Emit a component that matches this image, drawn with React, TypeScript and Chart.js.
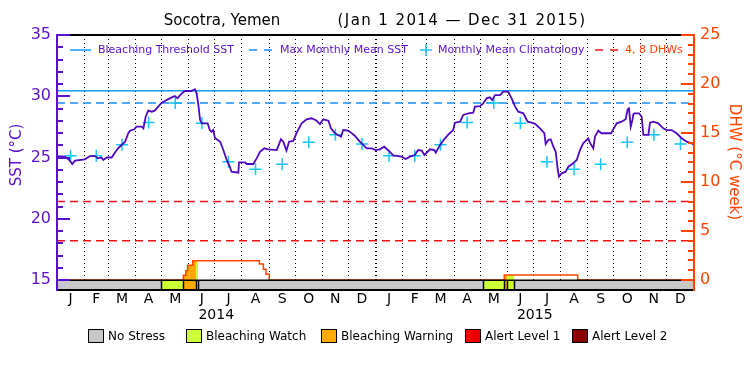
import React, { useEffect, useRef } from 'react';
import { Chart, registerables } from 'chart.js';

Chart.register(...registerables);

// ---------- DATA ----------
const titleLocation = 'Socotra, Yemen';
const titlePeriod = '(Jan 1 2014 — Dec 31 2015)';

// day offsets (from Jan 1 2014) of each month start, 2014–2015
const monthStarts = [0, 31, 59, 90, 120, 151, 181, 212, 243, 273, 304, 334, 365, 396, 424, 455, 485, 516, 546, 577, 608, 638, 669, 699, 730];
const monthLetters = ['J', 'F', 'M', 'A', 'M', 'J', 'J', 'A', 'S', 'O', 'N', 'D'];
const yearLabels = ['2014', '2015'];
const yearStarts = [0, 365, 730];

const sstTicks = [15, 16, 17, 18, 19, 20, 21, 22, 23, 24, 25, 26, 27, 28, 29, 30, 31, 32, 33, 34, 35];
const dhwTicks = [0, 1, 2, 3, 4, 5, 6, 7, 8, 9, 10, 11, 12, 13, 14, 15, 16, 17, 18, 19, 20, 21, 22, 23, 24, 25];

// daily SST (°C), sampled at the turning points of the trace
const sstDays = [
  0, 9, 14, 17.5, 20.6, 32, 37.8, 43.5, 47, 51, 53, 57, 62.7, 66.5, 70, 74, 78, 81.7, 83.7, 88.6,
  91, 97, 99, 101.6, 104.6, 108.5, 112, 120, 125.7, 131.5, 135, 138, 143, 146.7, 154, 158, 160, 162,
  164, 166, 172.7, 175, 177, 179, 181, 187, 190.6, 194.5, 198, 200, 207.8, 208.6, 215.4, 217.4, 225,
  228.8, 232.6, 237.6, 242, 251.8, 256.7, 259.3, 263, 265.9, 270.8, 274.7, 280.4, 286, 291.9, 297.6,
  301.4, 305, 311, 314, 318.6, 325.5, 328, 333.8, 337, 341.5, 347, 355, 360.6, 365,
  370, 375, 380, 385.4, 395, 399.6, 404.5, 410, 414, 418, 421, 427.5, 432.4, 434, 439, 444.6, 450,
  454, 456, 462, 465.6, 471.3, 477, 479, 484.8, 488.5, 492.4, 496, 498.8, 502, 507.7, 511.5, 517,
  521, 525, 528.7, 534.4, 539.4, 544, 548, 553.5, 558.5, 560, 563, 565.8, 568.8, 571.5, 573.8, 575.3,
  578.4, 583, 586, 591.7, 595.6, 599.4, 603, 608.8, 610.7, 614.6, 616.5, 620.3, 624, 635, 637.5,
  641.4, 647, 651.7, 654, 655.5, 657.5, 659.4, 660.6, 661.6, 667, 670, 672, 677.7, 679.6, 683.4, 689,
  694.8, 698.7, 704.4, 710, 715.9, 721.6, 727.3, 730,
];
const sstValues = [
  25.12, 25.07, 24.8, 24.47, 24.74, 24.85, 25.12, 25.12, 24.93, 25.0, 24.8, 25.0, 25.0, 25.4, 25.75, 26.02, 26.29, 26.98, 27.19, 27.3,
  27.52, 27.52, 27.38, 28.33, 28.82, 28.74, 28.82, 29.47, 29.69, 29.91, 30.02, 29.83, 30.24, 30.43, 30.43, 30.57, 30.24, 29.29,
  28.06, 27.79, 27.79, 27.24, 27.1, 27.24, 26.6, 26.29, 25.61, 24.8, 24.25, 23.84, 23.76, 24.61, 24.61, 24.47, 24.47,
  24.93, 25.47, 25.75, 25.67, 25.61, 26.49, 26.29, 25.56, 26.29, 26.35, 27.03, 27.79, 28.12, 28.2, 28.0,
  27.73, 28.12, 28.0, 27.38, 26.98, 26.7, 27.24, 27.19, 27.03, 26.76, 26.29, 25.75, 25.75, 25.6,
  25.67, 25.88, 25.56, 25.18, 25.07, 24.88, 25.07, 25.2, 25.61, 25.56, 25.2, 25.67, 25.61, 25.4, 26.02, 26.57, 26.98,
  27.24, 27.84, 27.92, 28.47, 28.61, 28.66, 29.15, 29.2, 29.42, 29.83, 29.91, 29.69, 30.1, 30.1, 30.37, 30.37,
  29.83, 29.15, 28.74, 28.61, 27.92, 27.84, 27.75, 27.38, 26.98, 26.1, 26.43, 26.49, 25.88, 25.47, 24.04, 23.44,
  23.71, 23.84, 24.25, 24.53, 24.8, 25.61, 26.16, 26.57, 26.21, 25.75, 26.7, 27.19, 26.98, 26.98, 27.3,
  27.79, 27.92, 28.12, 28.93, 29.01, 27.52, 28.06, 28.55, 28.61, 28.61, 28.33, 26.84, 26.84, 27.84, 27.92, 27.79,
  27.38, 27.24, 27.24, 26.98, 26.57, 26.29, 26.16, 26.02,
];

// monthly mean climatology (°C), Jan..Dec, same each year
const climatology = [25.15, 25.15, 26.05, 27.85, 29.45, 27.8, 24.65, 24.05, 24.45, 26.25, 26.85, 26.1];
const maxMonthlyMean = 29.45;
const bleachingThreshold = 30.45;
const dhwLevels = [4, 8];

// Degree Heating Weeks (°C week), step series
const dhwDays = [0, 144.8, 147.5, 149.7, 155.5, 231.9, 236.5, 239.5, 243.3, 512.6, 596.7, 730];
const dhwValues = [0, 0.48, 0.95, 1.5, 1.97, 1.63, 1.09, 0.58, 0, 0.5, 0, 0];

// stress level bar: segment boundaries (days) and level in each segment
const stressBreaks = [0, 119.6, 144.8, 159.3, 161.6, 488.2, 512.6, 515.7, 524, 730];
const stressLevels = [0, 1, 2, 1, 0, 1, 2, 1, 0];
const stressNames = ['No Stress', 'Bleaching Watch', 'Bleaching Warning', 'Alert Level 1', 'Alert Level 2'];

// ---------- STYLE ----------
const FONT = 'DejaVu Sans';
const PURPLE = '#5a0fcc';
const SST_LINE = '#4f08c0';
const BLUE = '#0a9cff';
const MMM_BLUE = '#1e8cff';
const CROSS = '#12c6ff';
const DHW_COL = '#ff4400';
const DHW_DASH = '#ee1111';
const stressColors = ['#c8c8c8', '#ccff33', '#ffaa00', '#ee0000', '#8b0000'];

function dhwAt(d: number) {
  let v = 0;
  for (let i = 0; i < dhwDays.length; i++) if (dhwDays[i] <= d) v = dhwValues[i];
  return v;
}

function fillSegments() {
  const sets: any[] = [];
  for (let i = 0; i < stressLevels.length; i++) {
    if (!stressLevels[i]) continue;
    const s = stressBreaks[i];
    const e = stressBreaks[i + 1];
    const pts = [{ x: s, y: dhwAt(s) }];
    dhwDays.forEach((d, k) => {
      if (d > s && d < e) pts.push({ x: d, y: dhwValues[k] });
    });
    pts.push({ x: e, y: dhwAt(e - 0.001) });
    sets.push({
      data: pts,
      yAxisID: 'y2',
      xAxisID: 'x',
      stepped: true,
      borderWidth: 0,
      borderColor: 'rgba(0,0,0,0)',
      backgroundColor: stressColors[stressLevels[i]],
      fill: 'origin',
      pointRadius: 0,
    });
  }
  return sets;
}

const decorPlugin = {
  id: 'decor',
  afterDatasetsDraw(chart: any) {
    const { ctx, chartArea: ca, scales } = chart;
    const x = scales.x;
    const y = scales.y;
    const y2 = scales.y2;
    const barTop = Math.round(y2.getPixelForValue(0));
    const barBot = Math.round(ca.bottom);
    ctx.save();

    // stress bar
    for (let i = 0; i < stressLevels.length; i++) {
      const x0 = x.getPixelForValue(stressBreaks[i]);
      const x1 = x.getPixelForValue(stressBreaks[i + 1]);
      ctx.fillStyle = stressColors[stressLevels[i]];
      ctx.fillRect(x0, barTop, x1 - x0, barBot - barTop);
    }
    ctx.strokeStyle = '#000';
    ctx.lineWidth = 1.5;
    for (let i = 1; i < stressLevels.length; i++) {
      if (stressLevels[i] || stressLevels[i - 1]) {
        const px = Math.round(x.getPixelForValue(stressBreaks[i])) + 0.5;
        ctx.beginPath();
        ctx.moveTo(px, barTop);
        ctx.lineTo(px, barBot);
        ctx.stroke();
      }
    }
    ctx.lineWidth = 1.5;
    ctx.beginPath();
    ctx.moveTo(ca.left, barTop + 0.25);
    ctx.lineTo(ca.right, barTop + 0.25);
    ctx.stroke();
    ctx.lineWidth = 2;
    ctx.beginPath();
    ctx.moveTo(ca.left, barBot);
    ctx.lineTo(ca.right, barBot);
    ctx.stroke();
    // top frame
    ctx.beginPath();
    ctx.moveTo(ca.left, ca.top);
    ctx.lineTo(ca.right, ca.top);
    ctx.stroke();

    // left axis
    ctx.strokeStyle = PURPLE;
    ctx.lineWidth = 2;
    ctx.beginPath();
    ctx.moveTo(ca.left, ca.top - 1);
    ctx.lineTo(ca.left, barBot + 1);
    ctx.stroke();
    for (const v of sstTicks) {
      const py = Math.round(y.getPixelForValue(v));
      const len = v % 5 === 0 ? 13 : 6;
      ctx.beginPath();
      ctx.moveTo(ca.left, py);
      ctx.lineTo(ca.left + len, py);
      ctx.stroke();
    }
    // right axis
    ctx.strokeStyle = DHW_COL;
    ctx.beginPath();
    ctx.moveTo(ca.right, ca.top - 1);
    ctx.lineTo(ca.right, barBot + 1);
    ctx.stroke();
    for (const v of dhwTicks) {
      const py = Math.round(y2.getPixelForValue(v));
      const len = v % 5 === 0 ? 13 : 6;
      ctx.beginPath();
      ctx.moveTo(ca.right - len, py);
      ctx.lineTo(ca.right, py);
      ctx.stroke();
    }

    // title
    ctx.fillStyle = '#000';
    ctx.font = `15px "${FONT}"`;
    ctx.textBaseline = 'middle';
    ctx.textAlign = 'center';
    ctx.fillText(titleLocation, 222, 21);
    ctx.letterSpacing = '1.4px';
    ctx.fillText(titlePeriod, 462, 21);
    ctx.letterSpacing = '0px';

    // top legend
    const ly = 50;
    ctx.font = `11px "${FONT}"`;
    ctx.textAlign = 'left';
    ctx.lineWidth = 1.5;
    ctx.strokeStyle = BLUE;
    ctx.beginPath();
    ctx.moveTo(70, ly);
    ctx.lineTo(91, ly);
    ctx.stroke();
    ctx.fillStyle = PURPLE;
    ctx.fillText('Bleaching Threshold SST', 98, ly);
    ctx.strokeStyle = MMM_BLUE;
    ctx.beginPath();
    ctx.moveTo(249, ly);
    ctx.lineTo(257, ly);
    ctx.moveTo(264, ly);
    ctx.lineTo(272, ly);
    ctx.stroke();
    ctx.fillText('Max Monthly Mean SST', 280, ly);
    ctx.strokeStyle = CROSS;
    ctx.beginPath();
    ctx.moveTo(420, ly);
    ctx.lineTo(432, ly);
    ctx.moveTo(426, ly - 6);
    ctx.lineTo(426, ly + 6);
    ctx.stroke();
    ctx.fillText('Monthly Mean Climatology', 438, ly);
    ctx.strokeStyle = DHW_DASH;
    ctx.beginPath();
    ctx.moveTo(595, ly);
    ctx.lineTo(603, ly);
    ctx.moveTo(610, ly);
    ctx.lineTo(618, ly);
    ctx.stroke();
    ctx.fillStyle = DHW_COL;
    ctx.fillText(`${dhwLevels.join(', ')} DHWs`, 625, ly);

    // axis titles
    ctx.font = `15px "${FONT}"`;
    ctx.textAlign = 'center';
    ctx.save();
    ctx.translate(17, 155);
    ctx.rotate(-Math.PI / 2);
    ctx.fillStyle = PURPLE;
    ctx.fillText('SST (°C)', 0, 0);
    ctx.restore();
    ctx.save();
    ctx.translate(734, 162);
    ctx.rotate(Math.PI / 2);
    ctx.fillStyle = DHW_COL;
    ctx.fillText('DHW (°C week)', 0, 0);
    ctx.restore();

    // bottom legend
    const boxX = [88, 186, 321, 465, 572];
    const by = 336;
    ctx.font = `12px "${FONT}"`;
    ctx.textAlign = 'left';
    ctx.lineWidth = 1;
    stressNames.forEach((name, i) => {
      ctx.fillStyle = stressColors[i];
      ctx.fillRect(boxX[i], by - 7, 15, 14);
      ctx.strokeStyle = '#000';
      ctx.strokeRect(boxX[i] + 0.5, by - 6.5, 15, 13);
      ctx.fillStyle = '#000';
      ctx.fillText(name, boxX[i] + 20, by + 1);
    });

    ctx.restore();
  },
};

const monthMids = monthStarts.slice(0, -1).map((s, i) => (s + monthStarts[i + 1]) / 2);
const yearMids = yearStarts.slice(0, -1).map((s, i) => (s + yearStarts[i + 1]) / 2);

export default function App() {
  const ref = useRef<HTMLCanvasElement>(null);
  useEffect(() => {
    document.body.style.margin = '0';
    const canvas = ref.current!;
    const climPts: { x: number; y: number }[] = [];
    yearLabels.forEach((_, yi) => {
      climatology.forEach((v, m) => climPts.push({ x: monthMids[yi * 12 + m], y: v }));
    });
    const chart = new Chart(canvas, {
      type: 'line',
      data: {
        datasets: [
          {
            data: sstDays.map((d, i) => ({ x: d, y: sstValues[i] })),
            borderColor: SST_LINE,
            borderWidth: 1.8,
            pointRadius: 0,
            yAxisID: 'y',
            xAxisID: 'x',
          },
          {
            data: climPts,
            showLine: false,
            pointStyle: 'cross',
            pointRadius: 6,
            pointBorderWidth: 1.5,
            borderColor: CROSS,
            backgroundColor: CROSS,
            yAxisID: 'y',
            xAxisID: 'x',
          },
          {
            data: [{ x: 0, y: bleachingThreshold }, { x: 730, y: bleachingThreshold }],
            borderColor: BLUE,
            borderWidth: 1.5,
            pointRadius: 0,
            yAxisID: 'y',
            xAxisID: 'x',
          },
          {
            data: [{ x: 0, y: maxMonthlyMean }, { x: 730, y: maxMonthlyMean }],
            borderColor: MMM_BLUE,
            borderWidth: 1.5,
            borderDash: [8, 5],
            pointRadius: 0,
            yAxisID: 'y',
            xAxisID: 'x',
          },
          {
            data: dhwDays.map((d, i) => ({ x: d, y: dhwValues[i] })),
            borderColor: DHW_COL,
            borderWidth: 1.5,
            stepped: true,
            pointRadius: 0,
            yAxisID: 'y2',
            xAxisID: 'x',
          },
          ...dhwLevels.map((lv) => ({
            data: [{ x: 0, y: lv }, { x: 730, y: lv }],
            borderColor: DHW_DASH,
            borderWidth: 1.5,
            borderDash: [8, 5],
            pointRadius: 0,
            yAxisID: 'y2',
            xAxisID: 'x',
          })),
          ...fillSegments(),
        ] as any,
      },
      options: {
        responsive: false,
        animation: false,
        devicePixelRatio: 1,
        layout: { padding: { top: 35, bottom: 51, left: 0, right: 0 } },
        plugins: {
          legend: { display: false },
          title: { display: false },
          tooltip: { enabled: false },
        },
        scales: {
          x: {
            type: 'linear',
            min: 0,
            max: 730,
            position: 'bottom',
            weight: 0,
            afterBuildTicks: (s: any) => {
              s.ticks = monthMids.map((v) => ({ value: v }));
            },
            afterFit: (s: any) => {
              s.height = 17;
            },
            ticks: {
              autoSkip: false,
              maxRotation: 0,
              padding: 1,
              color: '#000',
              font: { family: FONT, size: 14 },
              callback: (_v: any, i: number) => monthLetters[i % 12],
            },
            grid: { display: false, drawTicks: false },
            border: { display: false },
          },
          xy: {
            type: 'linear',
            min: 0,
            max: 730,
            position: 'bottom',
            weight: 1,
            afterBuildTicks: (s: any) => {
              s.ticks = yearMids.map((v) => ({ value: v }));
            },
            afterFit: (s: any) => {
              s.height = 17;
            },
            ticks: {
              autoSkip: false,
              maxRotation: 0,
              padding: 0,
              color: '#000',
              font: { family: FONT, size: 14 },
              callback: (_v: any, i: number) => yearLabels[i],
            },
            grid: { display: false, drawTicks: false },
            border: { display: false },
          },
          xg: {
            type: 'linear',
            min: 0,
            max: 730,
            position: 'bottom',
            weight: 2,
            afterBuildTicks: (s: any) => {
              s.ticks = monthStarts.slice(1, -1).map((v) => ({ value: v }));
            },
            afterFit: (s: any) => {
              s.height = 0;
            },
            ticks: { display: false },
            grid: {
              display: true,
              drawTicks: false,
              drawOnChartArea: true,
              color: '#000',
              lineWidth: (c: any) => (c.tick && yearStarts.includes(c.tick.value) ? 2 : 1),
            },
            border: { display: false, dash: [1, 3] },
          },
          y: {
            type: 'linear',
            position: 'left',
            min: 15 - 10 / 12.25,
            max: 35,
            afterBuildTicks: (s: any) => {
              s.ticks = sstTicks.map((v) => ({ value: v }));
            },
            afterFit: (s: any) => {
              s.width = 57;
            },
            ticks: {
              autoSkip: false,
              padding: 6,
              color: PURPLE,
              font: { family: FONT, size: 16 },
              callback: (v: any) => (v % 5 === 0 ? String(v) : ''),
            },
            grid: { display: false, drawTicks: false },
            border: { display: false },
          },
          y2: {
            type: 'linear',
            position: 'right',
            min: -10 / 9.8,
            max: 25,
            afterBuildTicks: (s: any) => {
              s.ticks = dhwTicks.map((v) => ({ value: v }));
            },
            afterFit: (s: any) => {
              s.width = 56;
            },
            ticks: {
              autoSkip: false,
              padding: 6,
              color: DHW_COL,
              font: { family: FONT, size: 16 },
              callback: (v: any) => (v % 5 === 0 ? String(v) : ''),
            },
            grid: { display: false, drawTicks: false },
            border: { display: false },
          },
        } as any,
      },
      plugins: [decorPlugin],
    });
    return () => chart.destroy();
  }, []);
  return (
    <div style={{ width: 750, height: 375, position: 'relative', background: '#fff' }}>
      <canvas ref={ref} width={750} height={375} style={{ display: 'block' }} />
    </div>
  );
}
